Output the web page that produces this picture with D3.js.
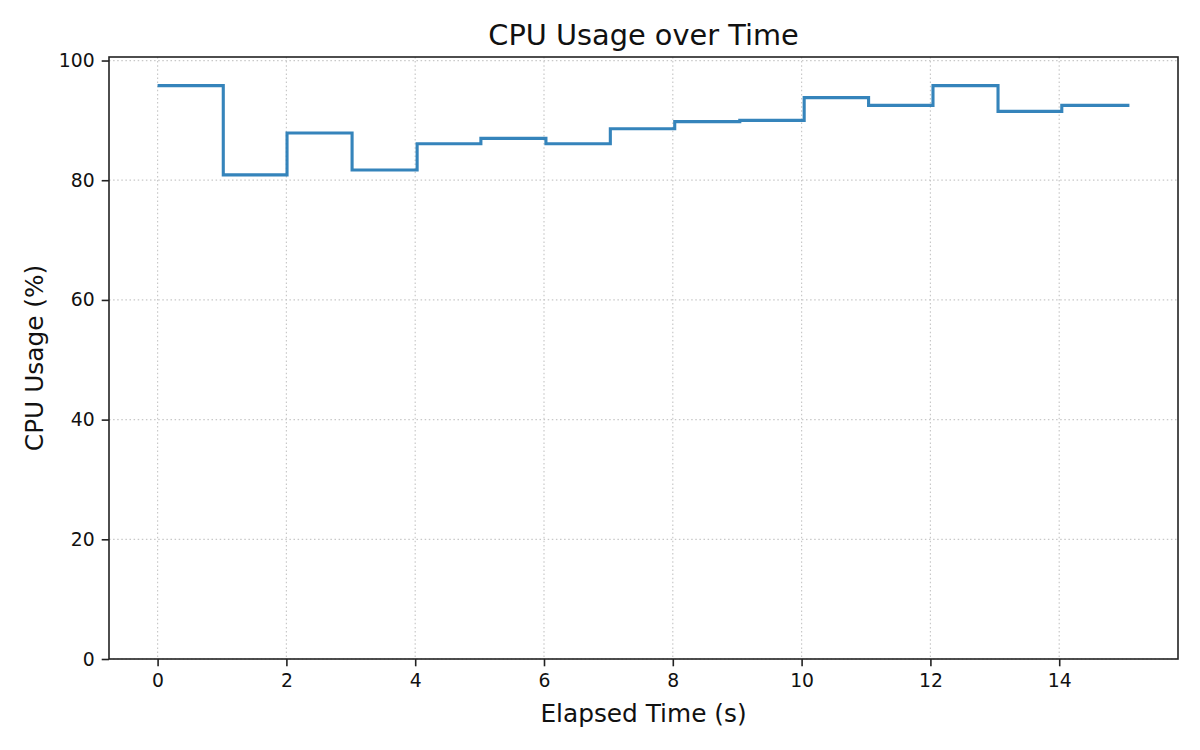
<!DOCTYPE html>
<html>
<head>
<meta charset="utf-8">
<script src="https://cdn.jsdelivr.net/npm/d3@7"></script>
<style>
  html, body { margin: 0; padding: 0; background: #ffffff; }
  svg { display: block; font-family: "DejaVu Sans", sans-serif; }
</style>
</head>
<body>
<svg id="chart" width="1200" height="750"></svg>
<script>
// ---- data ----
const elapsedTimes = [0, 1.02, 2.01, 3.02, 4.03, 5.02, 6.03, 7.03, 8.03, 9.04, 10.04, 11.04, 12.04, 13.05, 14.04, 15.09];
const cpuUsage     = [95.8, 80.9, 87.9, 81.7, 86.1, 87.0, 86.1, 88.6, 89.8, 90.0, 93.8, 92.5, 95.8, 91.5, 92.5, 92.5];
const xTickValues  = [0, 2, 4, 6, 8, 10, 12, 14];
const yTickValues  = [0, 20, 40, 60, 80, 100];
const titleText = "CPU Usage over Time";
const xLabelText = "Elapsed Time (s)";
const yLabelText = "CPU Usage (%)";

// ---- layout ----
const W = 1200, H = 750;
const m = { left: 109, right: 22, top: 57, bottom: 91 };
const svg = d3.select("#chart");

const points = elapsedTimes.map((t, i) => ({ t, v: cpuUsage[i] }));
const tMin = d3.min(elapsedTimes), tMax = d3.max(elapsedTimes);
const pad = (tMax - tMin) * 0.05;

const x = d3.scaleLinear().domain([tMin - pad, tMax + pad]).range([m.left, W - m.right]);
const y = d3.scaleLinear().domain([0, d3.max(cpuUsage) * 1.05]).range([H - m.bottom, m.top]);

// grid
const grid = svg.append("g");
grid.selectAll("line.gx").data(xTickValues).join("line")
  .attr("x1", d => x(d)).attr("x2", d => x(d))
  .attr("y1", m.top).attr("y2", H - m.bottom)
  .attr("stroke", "#c8c8c8").attr("stroke-width", 1.2).attr("stroke-dasharray", "1.5,2.6");
grid.selectAll("line.gy").data(yTickValues).join("line")
  .attr("x1", m.left).attr("x2", W - m.right)
  .attr("y1", d => y(d)).attr("y2", d => y(d))
  .attr("stroke", "#c8c8c8").attr("stroke-width", 1.2).attr("stroke-dasharray", "1.5,2.6");

// step line
const line = d3.line().x(d => x(d.t)).y(d => y(d.v)).curve(d3.curveStepAfter);
svg.append("path").datum(points)
  .attr("d", line)
  .attr("fill", "none")
  .attr("stroke", "#1f77b4")
  .attr("stroke-opacity", 0.9)
  .attr("stroke-width", 3.1)
  .attr("stroke-linejoin", "miter")
  .attr("stroke-linecap", "butt");

// axes
const xAxis = d3.axisBottom(x).tickValues(xTickValues).tickSize(7.3).tickPadding(7).tickFormat(d3.format("d"));
const yAxis = d3.axisLeft(y).tickValues(yTickValues).tickSize(7.3).tickPadding(7).tickFormat(d3.format("d"));

const gx = svg.append("g").attr("transform", `translate(0,${H - m.bottom})`).call(xAxis);
const gy = svg.append("g").attr("transform", `translate(${m.left},0)`).call(yAxis);
[gx, gy].forEach(g => {
  g.select(".domain").remove();
  g.selectAll(".tick line").attr("stroke", "#222").attr("stroke-width", 1.6);
  g.selectAll(".tick text").attr("fill", "#111").style("font-size", "18.8px").style("font-family", "DejaVu Sans");
});

// frame (spines)
svg.append("rect")
  .attr("x", m.left).attr("y", m.top)
  .attr("width", W - m.left - m.right).attr("height", H - m.top - m.bottom)
  .attr("fill", "none").attr("stroke", "#222").attr("stroke-width", 1.6);

// title and labels
svg.append("text").attr("x", (m.left + W - m.right) / 2).attr("y", 45)
  .attr("text-anchor", "middle").style("font-size", "28.8px").attr("fill", "#111").text(titleText);
svg.append("text").attr("x", (m.left + W - m.right) / 2).attr("y", 722)
  .attr("text-anchor", "middle").style("font-size", "24.8px").attr("fill", "#111").text(xLabelText);
svg.append("text")
  .attr("transform", `translate(43,${(m.top + H - m.bottom) / 2}) rotate(-90)`)
  .attr("text-anchor", "middle").style("font-size", "24.8px").attr("fill", "#111").text(yLabelText);
</script>
</body>
</html>
